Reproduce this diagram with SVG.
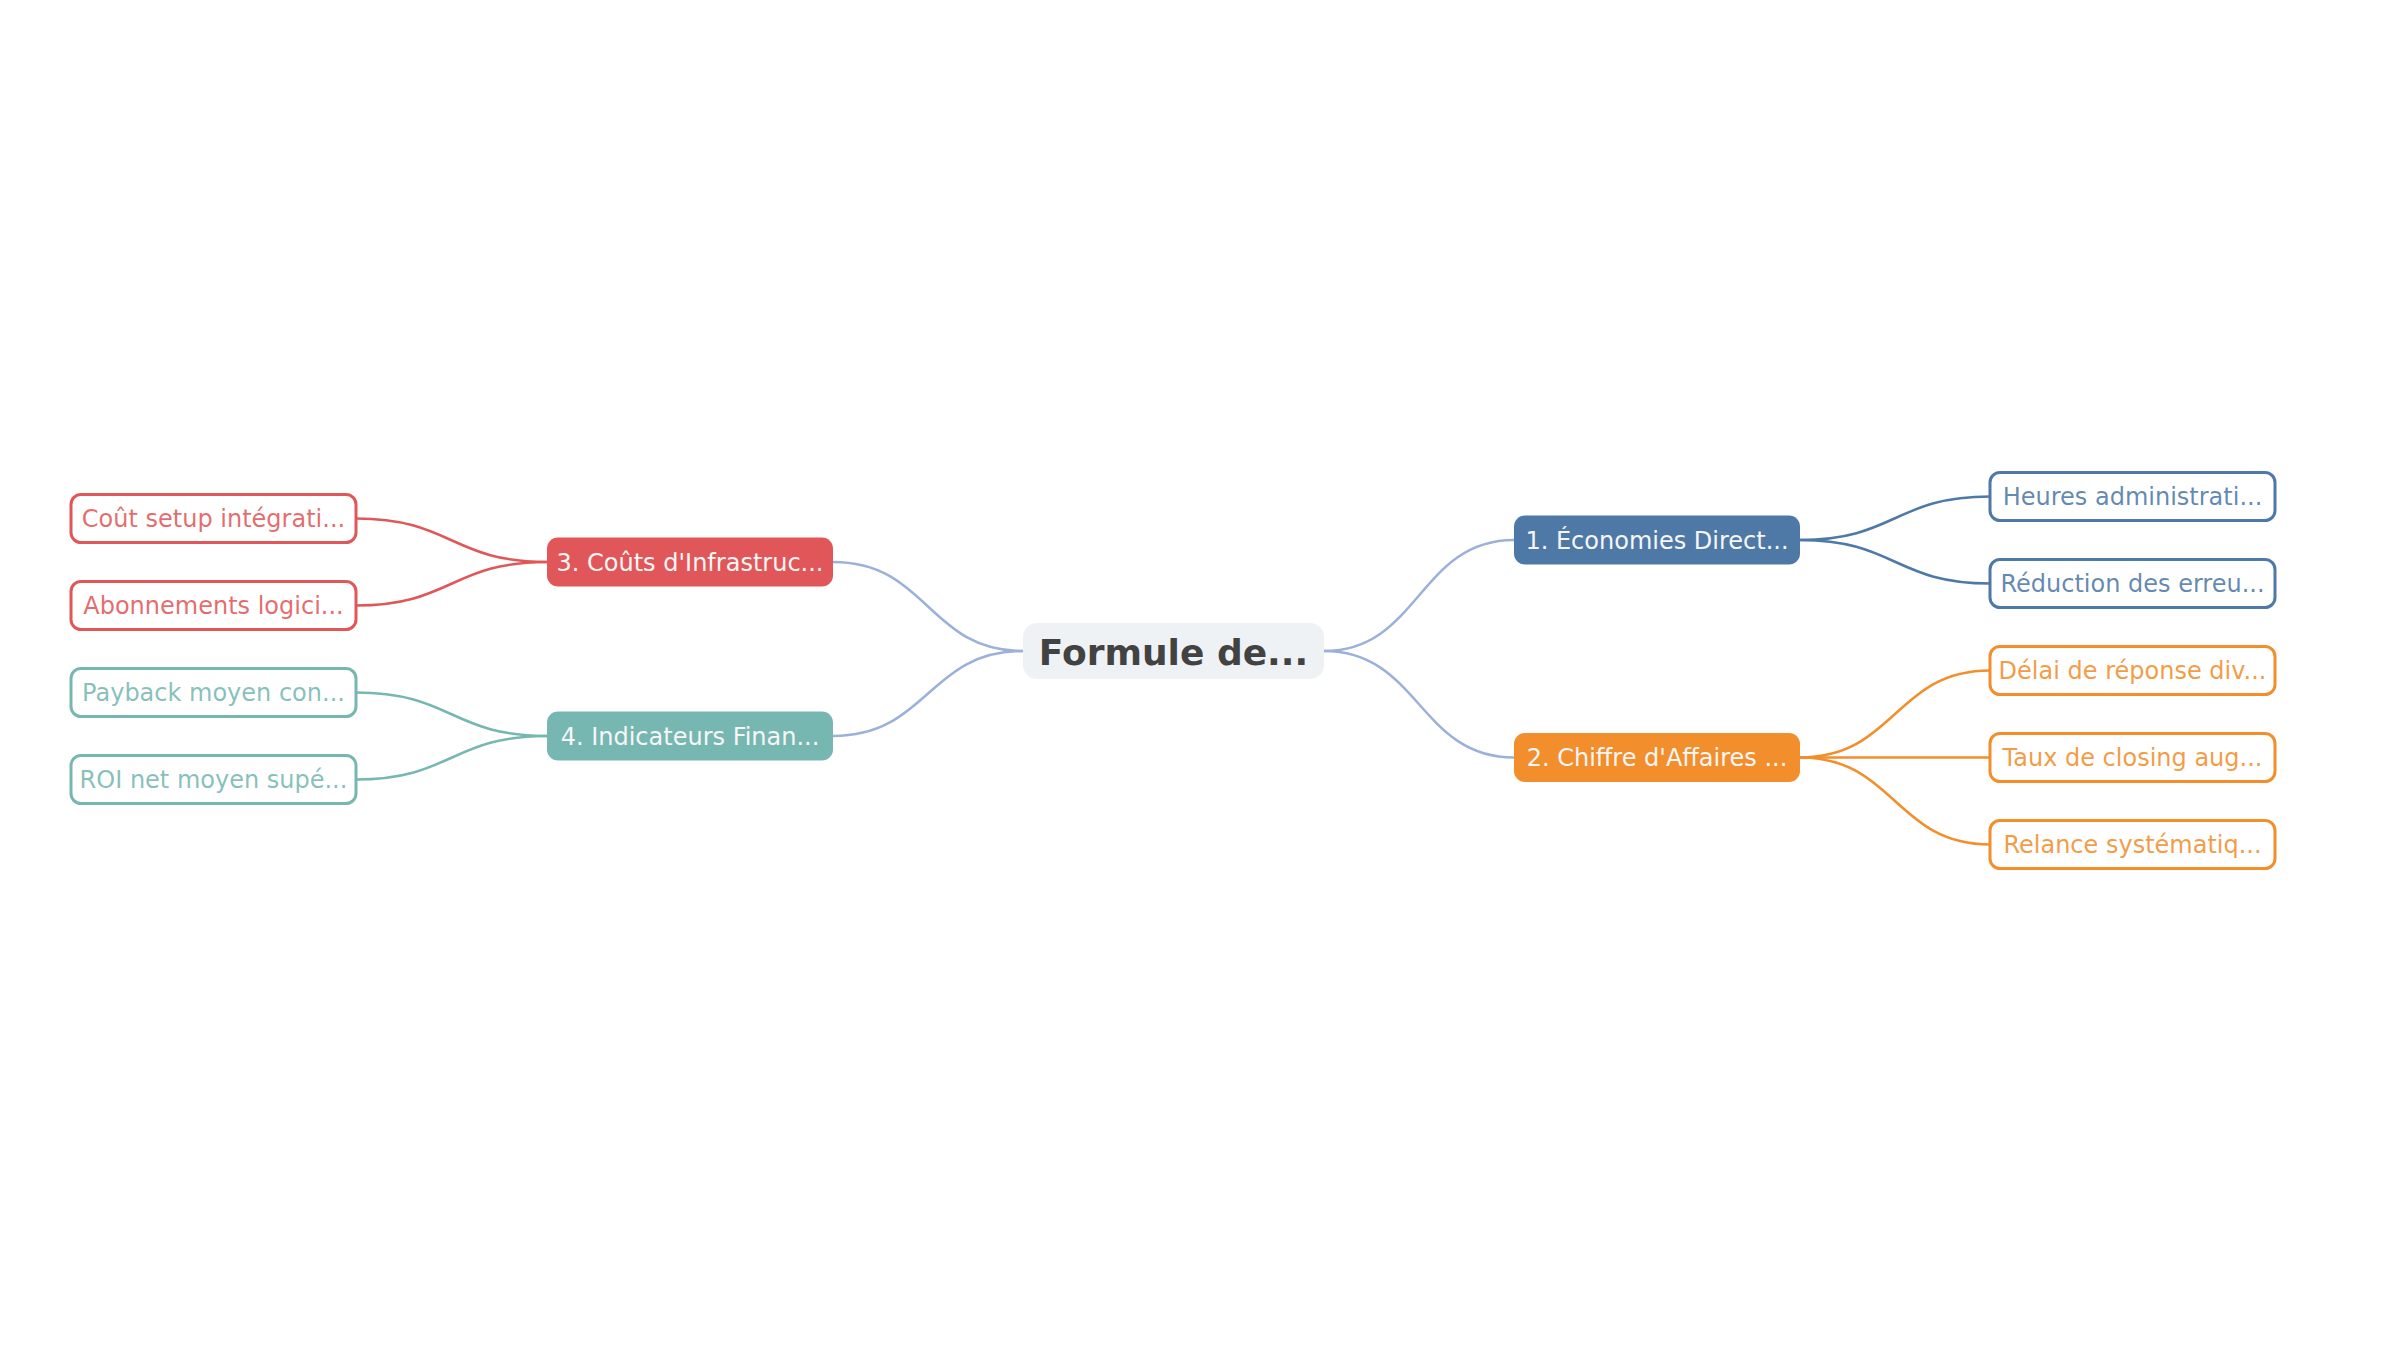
<svg xmlns="http://www.w3.org/2000/svg" width="2400" height="1350" viewBox="0 0 2400 1350">
<style>
text{font-family:"DejaVu Sans","Noto Sans",sans-serif;text-anchor:middle}
.root rect{fill:#eff2f4}
.root text{font-size:36px;font-weight:bold;fill:#424242}
.main text{font-size:24px;fill:#f6f6f6}
.leaf rect{fill:#ffffff;stroke-width:3}
.leaf text{font-size:24px;fill-opacity:0.88}
.links path{fill:none;stroke-width:2.5}
.c0{stroke:#9cb1da}
.cb{stroke:#4e79a7}.co{stroke:#f28e2b}.cr{stroke:#e15759}.ct{stroke:#76b7b2}
.fb{fill:#4e79a7}.fo{fill:#f28e2b}.fr{fill:#e15759}.ft{fill:#76b7b2}
</style>
<rect width="2400" height="1350" fill="#ffffff"/>
<g id="connectors" class="links">
<path class="c0" d="M1324,651 C1419,651 1419,540 1514,540"/>
<path class="c0" d="M1324,651 C1419,651 1419,757.5 1514,757.5"/>
<path class="c0" d="M1023,651 C928,651 928,562 833,562"/>
<path class="c0" d="M1023,651 C928,651 928,736 833,736"/>
<path class="cb" d="M1800,540 C1895,540 1895,496.5 1990,496.5"/>
<path class="cb" d="M1800,540 C1895,540 1895,583.5 1990,583.5"/>
<path class="co" d="M1800,757.5 C1895,757.5 1895,670.5 1990,670.5"/>
<path class="co" d="M1800,757.5 L1990,757.5"/>
<path class="co" d="M1800,757.5 C1895,757.5 1895,844.5 1990,844.5"/>
<path class="cr" d="M547,562 C451.5,562 451.5,518.5 356,518.5"/>
<path class="cr" d="M547,562 C451.5,562 451.5,605.5 356,605.5"/>
<path class="ct" d="M547,736 C451.5,736 451.5,692.5 356,692.5"/>
<path class="ct" d="M547,736 C451.5,736 451.5,779.5 356,779.5"/>
</g>
<g id="root" class="root">
<rect x="1023" y="623" width="301" height="56" rx="14"/>
<text x="1173.5" y="664.5">Formule de...</text>
</g>
<g id="n1" class="main">
<rect class="fb" x="1514" y="515.5" width="286" height="49" rx="11"/>
<text x="1657" y="548.5">1. Économies Direct...</text>
</g>
<g id="n2" class="main">
<rect class="fo" x="1514" y="733" width="286" height="49" rx="11"/>
<text x="1657" y="766">2. Chiffre d'Affaires ...</text>
</g>
<g id="n3" class="main">
<rect class="fr" x="547" y="537.5" width="286" height="49" rx="11"/>
<text x="690" y="570.5">3. Coûts d'Infrastruc...</text>
</g>
<g id="n4" class="main">
<rect class="ft" x="547" y="711.5" width="286" height="49" rx="11"/>
<text x="690" y="744.5">4. Indicateurs Finan...</text>
</g>
<g id="n1a" class="leaf">
<rect class="cb" x="1990" y="472.5" width="285" height="48" rx="10"/>
<text class="fb" x="2132.5" y="504.5">Heures administrati...</text>
</g>
<g id="n1b" class="leaf">
<rect class="cb" x="1990" y="559.5" width="285" height="48" rx="10"/>
<text class="fb" x="2132.5" y="591.5">Réduction des erreu...</text>
</g>
<g id="n2a" class="leaf">
<rect class="co" x="1990" y="646.5" width="285" height="48" rx="10"/>
<text class="fo" x="2132.5" y="678.5">Délai de réponse div...</text>
</g>
<g id="n2b" class="leaf">
<rect class="co" x="1990" y="733.5" width="285" height="48" rx="10"/>
<text class="fo" x="2132.5" y="765.5">Taux de closing aug...</text>
</g>
<g id="n2c" class="leaf">
<rect class="co" x="1990" y="820.5" width="285" height="48" rx="10"/>
<text class="fo" x="2132.5" y="852.5">Relance systématiq...</text>
</g>
<g id="n3a" class="leaf">
<rect class="cr" x="71" y="494.5" width="285" height="48" rx="10"/>
<text class="fr" x="213.5" y="526.5">Coût setup intégrati...</text>
</g>
<g id="n3b" class="leaf">
<rect class="cr" x="71" y="581.5" width="285" height="48" rx="10"/>
<text class="fr" x="213.5" y="613.5">Abonnements logici...</text>
</g>
<g id="n4a" class="leaf">
<rect class="ct" x="71" y="668.5" width="285" height="48" rx="10"/>
<text class="ft" x="213.5" y="700.5">Payback moyen con...</text>
</g>
<g id="n4b" class="leaf">
<rect class="ct" x="71" y="755.5" width="285" height="48" rx="10"/>
<text class="ft" x="213.5" y="787.5">ROI net moyen supé...</text>
</g>
</svg>
